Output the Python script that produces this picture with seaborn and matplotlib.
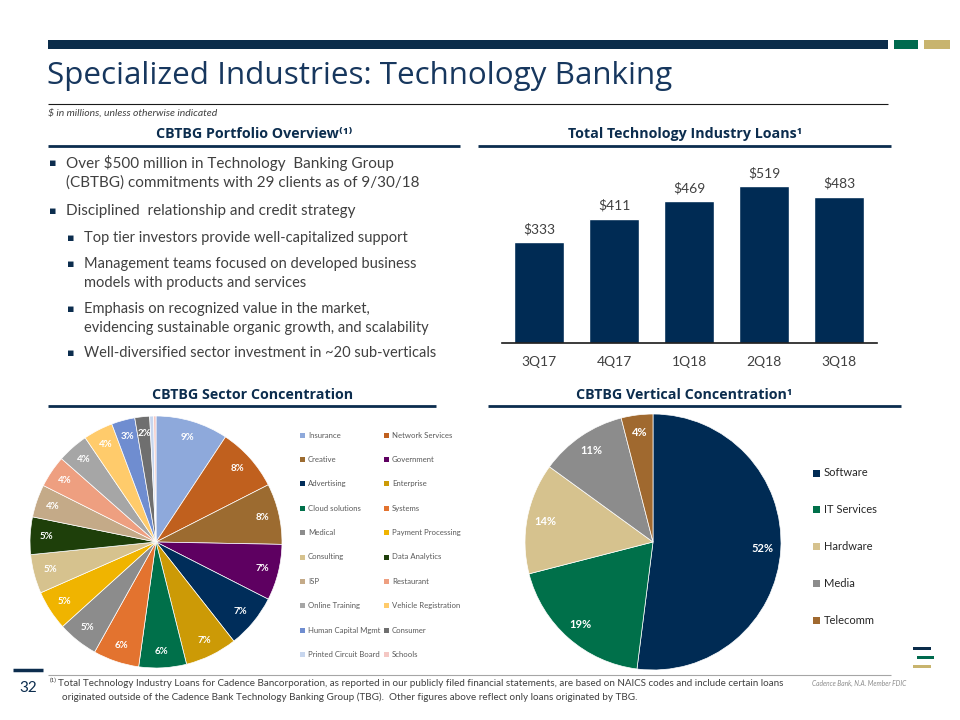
import matplotlib
matplotlib.use("Agg")
import matplotlib.pyplot as plt
import pandas as pd
import seaborn as sns
from matplotlib.patches import Rectangle

W, H = 960, 720

quarters = ["3Q17", "4Q17", "1Q18", "2Q18", "3Q18"]
loans = [333, 411, 469, 519, 483]

sectors = [
    "Insurance", "Network Services", "Creative", "Government", "Advertising",
    "Enterprise", "Cloud solutions", "Systems", "Medical", "Payment Processing",
    "Consulting", "Data Analytics", "ISP", "Restaurant", "Online Training",
    "Vehicle Registration", "Human Capital Mgmt", "Consumer",
    "Printed Circuit Board", "Schools",
]
sector_share = [9.3, 8.2, 7.8, 7.2, 6.9, 6.7, 6.1, 5.9, 5.2, 5.1,
                5.0, 4.8, 4.2, 4.1, 4.0, 3.8, 3.0, 1.9, 0.5, 0.3]
sector_colors = [
    "#8EA9DB", "#C0601E", "#9C6B30", "#5E0061", "#002D5A",
    "#CC9A06", "#00704A", "#E3732F", "#8C8C8C", "#F0B400",
    "#D6C28E", "#1E3F0A", "#C4AA88", "#EE9F80", "#A6A6A6",
    "#FFCB6B", "#6F8DD0", "#6F6F6F", "#C7D6EE", "#F4C7C3",
]

verticals = ["Software", "IT Services", "Hardware", "Media", "Telecomm"]
vertical_share = [52, 19, 14, 11, 4]
vertical_colors = ["#002B54", "#00704A", "#D6C28E", "#8C8C8C", "#A0692F"]

NAVY = "#0C2D4E"
TEXT = "#404040"
TITLE_FONT = ["Open Sans", "DejaVu Sans"]
BODY_FONT = ["Lato", "DejaVu Sans"]

sns.set_theme(style="white")
plt.rcParams["font.family"] = BODY_FONT

fig = plt.figure(figsize=(W / 100, H / 100), dpi=100)
fig.patch.set_facecolor("white")


def px_axes(left, top, right, bottom):
    return fig.add_axes([left / W, 1 - bottom / H, (right - left) / W, (bottom - top) / H])


# --- bar chart ---
ax_bar = px_axes(501.5, 150, 876.5, 343)
df = pd.DataFrame({"quarter": quarters, "loans": loans})
sns.barplot(data=df, x="quarter", y="loans", color="#002B54", width=0.667,
            saturation=1, ax=ax_bar)
ax_bar.set_ylim(0, 638)
ax_bar.set_xlim(-0.5, 4.5)
ax_bar.bar_label(ax_bar.containers[0], labels=[f"${v}" for v in loans],
                 padding=5, fontsize=10, color=TEXT)
ax_bar.set_xlabel("")
ax_bar.set_ylabel("")
ax_bar.set_yticks([])
ax_bar.tick_params(axis="x", labelsize=10, labelcolor=TEXT, length=0, pad=9)
for side in ["top", "right", "left"]:
    ax_bar.spines[side].set_visible(False)
ax_bar.spines["bottom"].set_color("#1a1a1a")
ax_bar.spines["bottom"].set_linewidth(1.2)
ax_bar.set_facecolor("none")

# --- sector pie ---
ax_sec = px_axes(30, 416, 282, 668)
ax_sec.pie(sector_share, colors=sector_colors, startangle=90, counterclock=False,
           autopct=lambda p: f"{p:.0f}%" if p > 1.5 else "", pctdistance=0.87,
           wedgeprops=dict(edgecolor="white", linewidth=0.5),
           textprops=dict(color="white", fontsize=7, fontweight="bold"))
ax_sec.set_xlim(-1, 1)
ax_sec.set_ylim(-1, 1)

# --- vertical pie ---
ax_ver = px_axes(525, 414, 781, 670)
ax_ver.pie(vertical_share, colors=vertical_colors, startangle=90, counterclock=False,
           autopct=lambda p: f"{p:.0f}%", pctdistance=0.86,
           wedgeprops=dict(edgecolor="white", linewidth=0.5),
           textprops=dict(color="white", fontsize=8, fontweight="bold"))
ax_ver.set_xlim(-1, 1)
ax_ver.set_ylim(-1, 1)

# --- overlay for slide text and rules ---
ov = fig.add_axes([0, 0, 1, 1])
ov.set_xlim(0, W)
ov.set_ylim(H, 0)
ov.axis("off")
ov.patch.set_alpha(0)


def rule(x0, x1, y, color=NAVY, lw=2.0):
    ov.plot([x0, x1], [y, y], color=color, lw=lw, solid_capstyle="butt")


ov.add_patch(Rectangle((48, 40), 840, 9, color="#0B2C4A", lw=0))
ov.add_patch(Rectangle((894, 40), 24, 9, color="#006A4E", lw=0))
ov.add_patch(Rectangle((924, 40), 26, 9, color="#C8B46E", lw=0))

ov.text(47, 76, "Specialized Industries: Technology Banking", fontsize=22.6,
        color="#17375E", family=TITLE_FONT, va="center", ha="left")
rule(48, 888, 104, color="#1a1a1a", lw=0.8)
ov.text(48, 113, "$ in millions, unless otherwise indicated", fontsize=7.5,
        style="italic", color=TEXT, va="center", ha="left")

headers = [
    ("CBTBG Portfolio Overview⁽¹⁾", 254, 134, 48, 460, 146),
    ("Total Technology Industry Loans¹", 685, 134, 478, 891, 146),
    ("CBTBG Sector Concentration", 253, 395, 48, 436, 406),
    ("CBTBG Vertical Concentration¹", 684, 395, 488, 901, 406),
]
for label, cx, cy, x0, x1, ly in headers:
    ov.text(cx, cy, label, fontsize=10.3, fontweight="bold", color=NAVY,
            family=TITLE_FONT, ha="center", va="center")
    rule(x0, x1, ly)

bullets = [
    (0, 163, "Over $500 million in Technology  Banking Group"),
    (0, 183, None, "(CBTBG) commitments with 29 clients as of 9/30/18"),
    (0, 211, "Disciplined  relationship and credit strategy"),
    (1, 238, "Top tier investors provide well-capitalized support"),
    (1, 264, "Management teams focused on developed business"),
    (1, 283, None, "models with products and services"),
    (1, 309, "Emphasis on recognized value in the market,"),
    (1, 328, None, "evidencing sustainable organic growth, and scalability"),
    (1, 353, "Well-diversified sector investment in ~20 sub-verticals"),
]
for item in bullets:
    level, y = item[0], item[1]
    text = item[2] if item[2] is not None else item[3]
    bx = 53 if level == 0 else 71
    tx = 66 if level == 0 else 84
    size = 11 if level == 0 else 10.5
    if item[2] is not None:
        ov.text(bx, y, "▪", fontsize=8, color=NAVY, family=["DejaVu Sans"],
                ha="center", va="center")
    ov.text(tx, y, text, fontsize=size, color=TEXT, ha="left", va="center")

# sector legend
for i, (name, col) in enumerate(zip(sectors, sector_colors)):
    row, c = divmod(i, 2)
    x = 300 if c == 0 else 384
    y = 435 + row * 24.4
    ov.add_patch(Rectangle((x, y - 2.5), 5, 5, color=col, lw=0))
    ov.text(x + 8, y, name, fontsize=5.6, color="#595959", ha="left", va="center")

# vertical legend
for i, (name, col) in enumerate(zip(verticals, vertical_colors)):
    y = 473 + i * 36.9
    ov.add_patch(Rectangle((813, y - 3.5), 7, 7, color=col, lw=0))
    ov.text(824, y, name, fontsize=8, color="#262626", ha="left", va="center")

# footer
rule(13, 43, 670, color=NAVY, lw=2.5)
rule(48, 891, 675, color="#A6A6A6", lw=0.8)
ov.text(28, 688, "32", fontsize=11, color=NAVY, ha="center", va="center")
ov.text(50, 680, "(1)", fontsize=4.5, color=TEXT, ha="left", va="center")
ov.text(58, 683, "Total Technology Industry Loans for Cadence Bancorporation, as reported in our "
        "publicly filed financial statements, are based on NAICS codes and include certain loans",
        fontsize=7.1, color=TEXT, ha="left", va="center")
ov.text(62, 697, "originated outside of the Cadence Bank Technology Banking Group (TBG).  "
        "Other figures above reflect only loans originated by TBG.",
        fontsize=7.1, color=TEXT, ha="left", va="center")
ov.text(812, 683, "Cadence Bank, N.A. Member FDIC", fontsize=4.8, style="italic",
        color="#8c8c8c", ha="left", va="center")

ov.add_patch(Rectangle((913, 646.5), 18, 3, color="#0B2C4A", lw=0))
ov.add_patch(Rectangle((917, 655.5), 17, 3, color="#006A4E", lw=0))
ov.add_patch(Rectangle((913, 664.5), 18, 3, color="#C8B46E", lw=0))

fig.savefig("out.png", dpi=100, facecolor="white")
